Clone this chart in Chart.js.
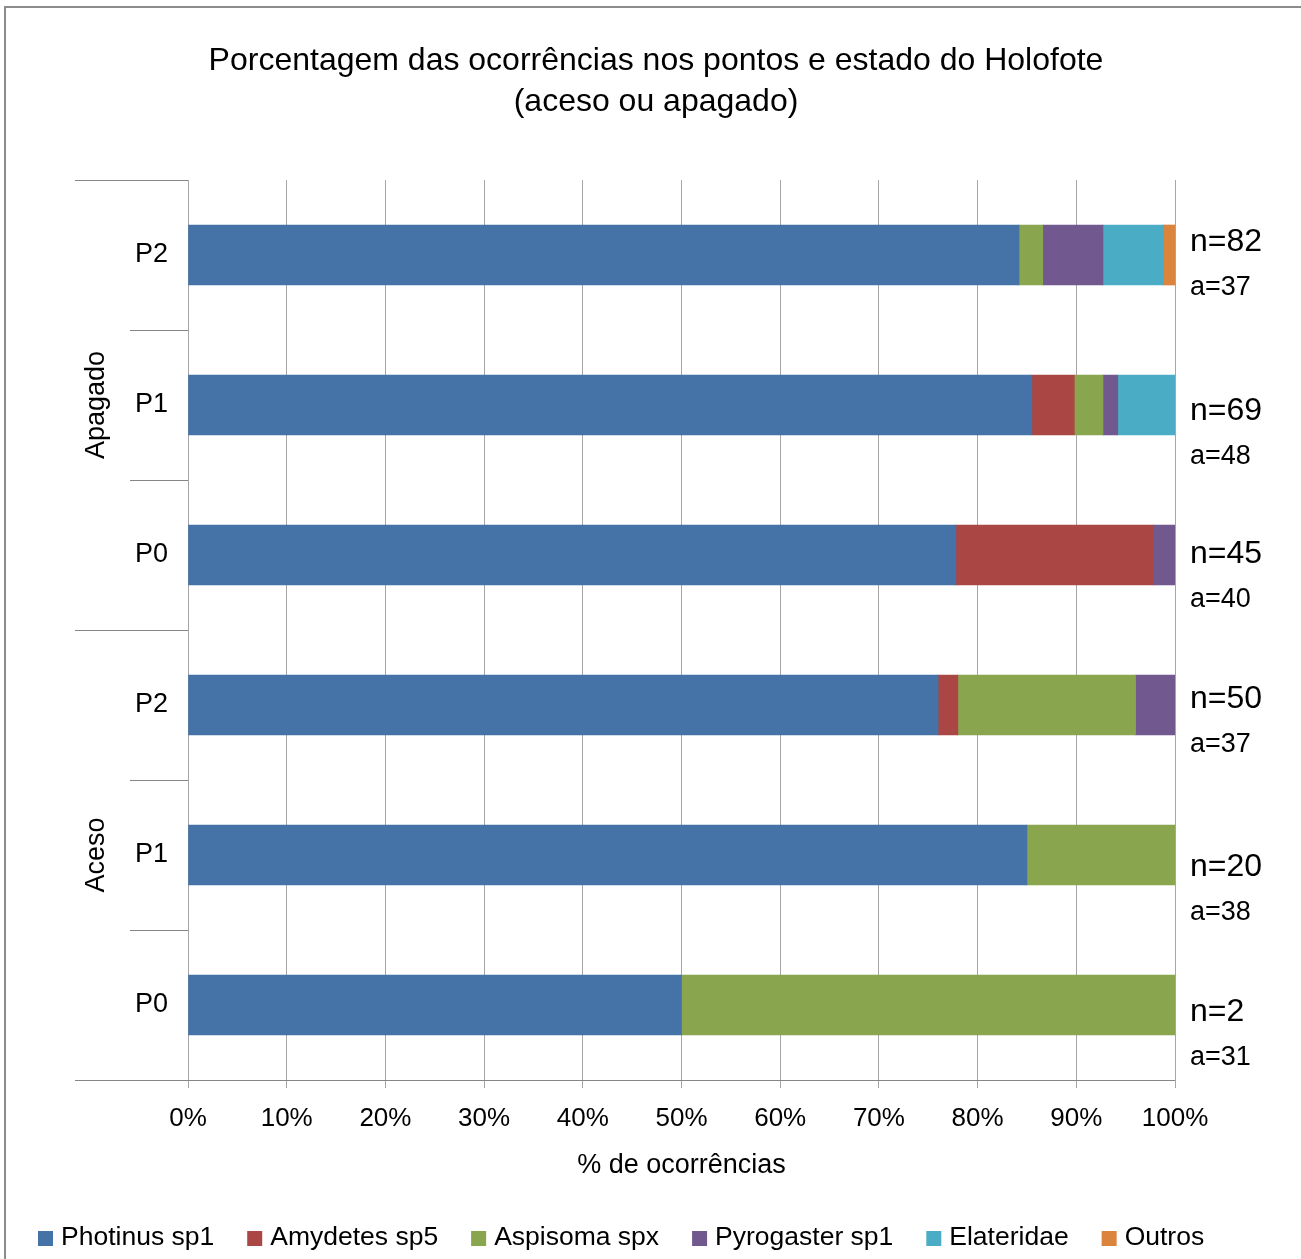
<!DOCTYPE html>
<html lang="pt">
<head>
  <meta charset="UTF-8">
  <title>Porcentagem das ocorrências</title>
  <script src="https://cdn.jsdelivr.net/npm/chart.js"></script>
  <style>
    body { margin: 0; background: #fff; }
    #wrap { width: 1301px; height: 1259px; }
  </style>
</head>
<body>
<div id="wrap"><canvas id="chart" width="1301" height="1259"></canvas></div>
<script>
// pontos, de cima para baixo
const pontos = ['P2', 'P1', 'P0', 'P2', 'P1', 'P0'];
const grupos = ['Apagado', 'Aceso'];

// % de ocorrências por espécie
const photinus   = [84.2, 85.5, 77.8, 76, 85, 50];
const amydetes   = [null, 4.3, 20, 2, null, null];
const aspisoma   = [2.4, 2.9, null, 18, 15, 50];
const pyrogaster = [6.1, 1.5, 2.2, 4, null, null];
const elateridae = [6.1, 5.8, null, null, null, null];
const outros     = [1.2, null, null, null, null, null];

const nTexto = ['n=82', 'n=69', 'n=45', 'n=50', 'n=20', 'n=2'];
const aTexto = ['a=37', 'a=48', 'a=40', 'a=37', 'a=38', 'a=31'];
const xTicks = [0, 10, 20, 30, 40, 50, 60, 70, 80, 90, 100];

// deslocamento vertical das caixas de texto n= em relação à barra
const nDesloc = [-14, 5, -2, -7, 11, 6];

const FONTE = 'Arial, "Liberation Sans", sans-serif';
const eixoCor = '#868686';

const decor = {
  id: 'decor',
  beforeDraw(chart) {
    const c = chart.ctx;
    c.save();
    c.fillStyle = '#fff';
    c.fillRect(0, 0, chart.width, chart.height);
    c.restore();
  },
  afterDraw(chart) {
    const c = chart.ctx;
    const area = chart.chartArea;
    const y = chart.scales.y;
    const passo = y.getPixelForValue(1) - y.getPixelForValue(0);
    c.save();

    // moldura
    c.strokeStyle = '#8c8c8c';
    c.lineWidth = 2;
    c.beginPath();
    c.moveTo(5, chart.height);
    c.lineTo(5, 7);
    c.lineTo(chart.width, 7);
    c.stroke();

    // título
    c.fillStyle = '#000';
    c.textAlign = 'center';
    c.textBaseline = 'middle';
    c.font = '32px ' + FONTE;
    c.fillText('Porcentagem das ocorrências nos pontos e estado do Holofote', 656, 61);
    c.fillText('(aceso ou apagado)', 656, 102);

    // eixo categórico em dois níveis
    c.strokeStyle = eixoCor;
    c.lineWidth = 1;
    pontos.forEach((p, i) => {
      const topo = y.getPixelForValue(i) - passo / 2;
      const x0 = (i % 3 === 0) ? 75 : 130;
      c.beginPath();
      c.moveTo(x0, Math.round(topo) + 0.5);
      c.lineTo(area.left, Math.round(topo) + 0.5);
      c.stroke();
    });
    c.beginPath();
    c.moveTo(75, Math.round(area.bottom) + 0.5);
    c.lineTo(area.right, Math.round(area.bottom) + 0.5);
    c.stroke();

    c.font = '27px ' + FONTE;
    c.textAlign = 'right';
    pontos.forEach((p, i) => {
      c.fillText(p, 168, y.getPixelForValue(i));
    });

    c.font = '27px ' + FONTE;
    c.textAlign = 'center';
    grupos.forEach((g, k) => {
      const meio = (y.getPixelForValue(k * 3) + y.getPixelForValue(k * 3 + 2)) / 2;
      c.save();
      c.translate(97, meio);
      c.rotate(-Math.PI / 2);
      c.fillText(g, 0, 0);
      c.restore();
    });

    // n e a à direita das barras
    c.textAlign = 'left';
    pontos.forEach((p, i) => {
      const yn = y.getPixelForValue(i) + nDesloc[i];
      c.font = '32px ' + FONTE;
      c.fillText(nTexto[i], area.right + 15, yn + 1);
      c.font = '27px ' + FONTE;
      c.fillText(aTexto[i], area.right + 15, yn + 47);
    });

    // título do eixo x
    c.font = '27px ' + FONTE;
    c.textAlign = 'center';
    c.fillText('% de ocorrências', (area.left + area.right) / 2, 1166);

    // legenda
    c.font = '26.5px ' + FONTE;
    c.textAlign = 'left';
    let lx = 38;
    chart.data.datasets.forEach(ds => {
      c.fillStyle = ds.backgroundColor;
      c.fillRect(lx, 1231, 15, 15);
      c.fillStyle = '#000';
      c.fillText(ds.label, lx + 23, 1238);
      lx += 23 + c.measureText(ds.label).width + 33;
    });

    c.restore();
  }
};

new Chart(document.getElementById('chart'), {
  type: 'bar',
  data: {
    labels: pontos,
    datasets: [
      { label: 'Photinus sp1', data: photinus, backgroundColor: '#4572A7' },
      { label: 'Amydetes sp5', data: amydetes, backgroundColor: '#AA4643' },
      { label: 'Aspisoma spx', data: aspisoma, backgroundColor: '#89A54E' },
      { label: 'Pyrogaster sp1', data: pyrogaster, backgroundColor: '#71588F' },
      { label: 'Elateridae', data: elateridae, backgroundColor: '#4BACC6' },
      { label: 'Outros', data: outros, backgroundColor: '#DB843D' }
    ]
  },
  options: {
    indexAxis: 'y',
    responsive: false,
    animation: false,
    layout: { padding: { left: 188, right: 126, top: 180, bottom: 119 } },
    datasets: { bar: { barThickness: 60, borderWidth: 0 } },
    plugins: {
      legend: { display: false },
      title: { display: false },
      tooltip: { enabled: false }
    },
    scales: {
      y: {
        stacked: true,
        display: false
      },
      x: {
        stacked: true,
        min: 0,
        max: 100,
        afterBuildTicks: s => { s.ticks = xTicks.map(v => ({ value: v })); },
        afterFit: s => { s.height = 60; },
        grid: { color: '#a6a6a6', lineWidth: 1, tickLength: 8, drawTicks: true },
        border: { display: false },
        ticks: {
          color: '#000',
          font: { size: 26, family: FONTE },
          padding: 15,
          callback: v => v + '%'
        }
      }
    }
  },
  plugins: [decor]
});
</script>
</body>
</html>
